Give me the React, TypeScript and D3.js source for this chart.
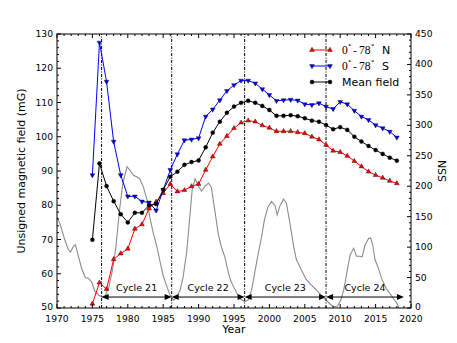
import React from 'react';
import * as d3 from 'd3';

const width = 457;
const height = 343;
const margin = { top: 34, right: 46, bottom: 35, left: 57 };

// field strength per year (mG)
const years = [
  1975, 1976, 1977, 1978, 1979, 1980, 1981, 1982, 1983, 1984, 1985, 1986, 1987, 1988, 1989,
  1990, 1991, 1992, 1993, 1994, 1995, 1996, 1997, 1998, 1999, 2000, 2001, 2002, 2003, 2004,
  2005, 2006, 2007, 2008, 2009, 2010, 2011, 2012, 2013, 2014, 2015, 2016, 2017, 2018,
];
const fieldNorth = [
  51.2, 57.4, 55.5, 64.2, 65.9, 67.3, 73.1, 74.4, 79.0, 81.0, 83.5, 86.2, 84.0, 84.4, 85.5,
  86.2, 90.3, 94.2, 97.9, 100.2, 102.5, 104.1, 104.7, 104.4, 103.3, 102.6, 101.6, 101.6, 101.6, 101.3,
  101.0, 100.0, 99.2, 97.6, 95.9, 95.5, 94.4, 92.9, 91.3, 89.8, 88.8, 88.0, 87.1, 86.4,
];
const fieldSouth = [
  88.8, 127.5, 116.1, 98.6, 88.8, 82.6, 82.6, 81.1, 80.8, 78.5, 84.5, 90.3, 94.9, 99.0, 99.2,
  99.6, 105.9, 108.0, 110.7, 113.4, 115.1, 116.4, 116.4, 115.6, 113.9, 112.2, 110.5, 110.7, 110.8, 110.6,
  109.5, 109.3, 109.8, 108.8, 108.1, 110.2, 109.5, 107.6, 105.9, 104.9, 103.4, 102.5, 101.5, 99.8,
];
const fieldMean = [
  69.9, 92.2, 85.6, 81.2, 77.4, 75.0, 77.8, 77.8, 80.0, 80.4, 84.5, 88.3, 89.8, 91.8, 92.6,
  93.1, 96.9, 101.2, 104.4, 107.0, 108.8, 109.9, 110.5, 109.9, 109.0, 107.8, 106.1, 106.1, 106.3, 106.0,
  105.4, 104.7, 104.4, 103.4, 102.2, 102.8, 102.0, 100.0, 98.6, 97.3, 96.1, 95.0, 93.9, 93.0,
];

// smoothed sunspot number (right axis)
const ssnYears = [
  1970.0, 1970.4, 1970.7, 1971.1, 1971.6, 1971.9, 1972.3, 1972.6, 1973.0, 1973.5, 1974.0, 1974.4,
  1974.9, 1975.3, 1975.9, 1976.4, 1976.8, 1977.3, 1977.8, 1978.3, 1978.8, 1979.3, 1979.9, 1980.3,
  1980.8, 1981.3, 1981.7, 1982.2, 1982.7, 1983.1, 1983.6, 1984.1, 1984.5, 1985.0, 1985.5, 1986.0,
  1986.5, 1986.9, 1987.4, 1987.8, 1988.3, 1988.8, 1989.1, 1989.5, 1990.0, 1990.4, 1990.9, 1991.4,
  1991.8, 1992.3, 1992.8, 1993.2, 1993.7, 1994.2, 1994.6, 1995.1, 1995.6, 1996.0, 1996.5, 1997.0,
  1997.5, 1997.9, 1998.4, 1998.9, 1999.3, 1999.8, 2000.3, 2000.8, 2001.1, 2001.5, 2002.0, 2002.4,
  2002.9, 2003.4, 2003.8, 2004.5, 2005.2, 2005.9, 2006.6, 2007.3, 2008.0, 2008.7, 2009.1, 2009.6,
  2010.1, 2010.5, 2011.0, 2011.4, 2011.9, 2012.3, 2012.8, 2013.1, 2013.5, 2014.0, 2014.3, 2014.6,
  2014.9, 2015.4, 2015.9, 2016.5, 2017.2, 2017.6, 2018.0, 2018.3,
];
const ssnValues = [
  149, 139, 128, 112, 96, 92, 101, 104, 86, 64, 50, 49,
  43, 28, 21, 18, 20, 33, 60, 98, 158, 205, 232, 226,
  218, 215, 212, 199, 178, 150, 123, 101, 79, 53, 36, 20,
  13, 18, 30, 50, 90, 155, 195, 212, 200, 192, 200, 205,
  198, 160, 120, 101, 84, 58, 43, 31, 20, 14, 11, 13,
  30, 56, 88, 117, 145, 166, 175, 168, 153, 168, 179, 172,
  139, 103, 80, 63, 47, 38, 30, 21, 13, 5, 2, 3,
  13, 30, 62, 87, 98, 85, 85, 84, 103, 114, 115, 103,
  80, 65, 47, 32, 21, 14, 8, 0,
];

const cycleStarts = [1976.3, 1986.2, 1996.5, 2008.0];
const cycleEnds = [1986.2, 1996.5, 2008.0, 2019.0];
const cycleNames = ['Cycle 21', 'Cycle 22', 'Cycle 23', 'Cycle 24'];
const arrowLevel = 53.2;

const xTicks = [1970, 1975, 1980, 1985, 1990, 1995, 2000, 2005, 2010, 2015, 2020];
const leftTicks = [50, 60, 70, 80, 90, 100, 110, 120, 130];
const rightTicks = [0, 50, 100, 150, 200, 250, 300, 350, 400, 450];

const font = 'DejaVu Sans, sans-serif';

export default function App() {
  const x = d3.scaleLinear([1970, 2020], [margin.left, width - margin.right]);
  const yL = d3.scaleLinear([50, 130], [height - margin.bottom, margin.top]);
  const yR = d3.scaleLinear([0, 450], [height - margin.bottom, margin.top]);
  const x0 = margin.left, x1 = width - margin.right;
  const y0 = height - margin.bottom, y1 = margin.top;

  const fieldLine = d3.line<number>().x((d, i) => x(years[i])).y(d => yL(d));
  const ssnLine = d3.line<number>().x((d, i) => x(ssnYears[i])).y(d => yR(d));
  const tri = d3.symbol(d3.symbolTriangle, 10)()!;

  const xMinor = d3.range(1970, 2021, 1).filter(v => v % 5 !== 0);
  const lMinor = d3.range(50, 131, 2).filter(v => v % 10 !== 0);
  const rMinor = d3.range(0, 451, 10).filter(v => v % 50 !== 0);

  const series = [
    { data: fieldNorth, color: '#ff0000', marker: 'up' },
    { data: fieldSouth, color: '#0000ff', marker: 'down' },
    { data: fieldMean, color: '#000000', marker: 'circle' },
  ];

  const drawMarker = (kind: string, cx: number, cy: number, color: string, key: any) => {
    if (kind === 'circle') return <circle key={key} cx={cx} cy={cy} r={2} fill={color} stroke="#000" strokeWidth={0.4} />;
    const rot = kind === 'down' ? 180 : 0;
    return <path key={key} d={tri} transform={`translate(${cx},${cy}) rotate(${rot})`} fill={color} stroke="#000" strokeWidth={0.4} />;
  };

  const arrowHead = (tipX: number, dir: number, y: number, key: any) => {
    const len = 7, hw = 3;
    return <path key={key} d={`M${tipX},${y}L${tipX - dir * len},${y - hw}L${tipX - dir * len},${y + hw}Z`} fill="#000" />;
  };

  const legendItems = [
    { color: '#ff0000', marker: 'up', label: 'N' },
    { color: '#0000ff', marker: 'down', label: 'S' },
    { color: '#000000', marker: 'circle', label: 'Mean field' },
  ];

  return (
    <svg width={width} height={height} style={{ position: 'absolute', left: 0, top: 0, background: '#fff' }} fontFamily={font}>
      <defs>
        <clipPath id="plot-clip">
          <rect x={x0} y={y1} width={x1 - x0} height={y0 - y1} />
        </clipPath>
      </defs>

      <path d={ssnLine(ssnValues)!} fill="none" stroke="#8c8c8c" strokeWidth={1.1} clipPath="url(#plot-clip)" />

      {cycleStarts.map((c, i) => (
        <line key={'v' + i} x1={x(c)} x2={x(c)} y1={y0} y2={y1} stroke="#000" strokeWidth={1} strokeDasharray="3,1.5,1,1.5" />
      ))}

      {cycleStarts.map((c, i) => {
        const ya = yL(arrowLevel);
        const a = x(c), b = x(cycleEnds[i]);
        return (
          <g key={'a' + i}>
            <line x1={a + 5} x2={b - 5} y1={ya} y2={ya} stroke="#000" strokeWidth={1} />
            {arrowHead(a, -1, ya, 'l')}
            {arrowHead(b, 1, ya, 'r')}
            <text x={(a + b) / 2} y={ya - 6.5} fontSize={9.5} textAnchor="middle">{cycleNames[i]}</text>
          </g>
        );
      })}

      {series.map((s, si) => (
        <g key={'s' + si} clipPath="url(#plot-clip)">
          <path d={fieldLine(s.data)!} fill="none" stroke={s.color} strokeWidth={1} />
          {s.data.map((v, i) => drawMarker(s.marker, x(years[i]), yL(v), s.color, i))}
        </g>
      ))}

      <rect x={x0} y={y1} width={x1 - x0} height={y0 - y1} fill="none" stroke="#000" strokeWidth={1} />

      {xTicks.map(t => (
        <g key={'xt' + t}>
          <line x1={x(t)} x2={x(t)} y1={y0} y2={y0 - 4} stroke="#000" />
          <line x1={x(t)} x2={x(t)} y1={y1} y2={y1 + 4} stroke="#000" />
          <text x={x(t)} y={y0 + 13.5} fontSize={9.2} textAnchor="middle">{t}</text>
        </g>
      ))}
      {xMinor.map(t => (
        <g key={'xm' + t}>
          <line x1={x(t)} x2={x(t)} y1={y0} y2={y0 - 2} stroke="#000" />
          <line x1={x(t)} x2={x(t)} y1={y1} y2={y1 + 2} stroke="#000" />
        </g>
      ))}
      {leftTicks.map(t => (
        <g key={'lt' + t}>
          <line x1={x0} x2={x0 + 4} y1={yL(t)} y2={yL(t)} stroke="#000" />
          <text x={x0 - 4} y={yL(t) + (t === 50 ? 2.3 : 3)} fontSize={9.2} textAnchor="end">{t}</text>
        </g>
      ))}
      {lMinor.map(t => (
        <line key={'lm' + t} x1={x0} x2={x0 + 2} y1={yL(t)} y2={yL(t)} stroke="#000" />
      ))}
      {rightTicks.map(t => (
        <g key={'rt' + t}>
          <line x1={x1} x2={x1 - 4} y1={yR(t)} y2={yR(t)} stroke="#000" />
          <text x={x1 + 4} y={yR(t) + (t === 0 ? 2.3 : 3)} fontSize={9.2} textAnchor="start">{t}</text>
        </g>
      ))}
      {rMinor.map(t => (
        <line key={'rm' + t} x1={x1} x2={x1 - 2} y1={yR(t)} y2={yR(t)} stroke="#000" />
      ))}

      <text x={(x0 + x1) / 2} y={333} fontSize={11} textAnchor="middle">Year</text>
      <text transform={`translate(25,${(y0 + y1) / 2}) rotate(-90)`} fontSize={11} textAnchor="middle">Unsigned magnetic field (mG)</text>
      <text transform={`translate(446,${(y0 + y1) / 2}) rotate(-90)`} fontSize={11} textAnchor="middle">SSN</text>

      {legendItems.map((it, i) => {
        const ly = 50 + i * 16;
        return (
          <g key={'lg' + i}>
            <line x1={312} x2={330} y1={ly} y2={ly} stroke={it.color} strokeWidth={1} />
            {drawMarker(it.marker, 312, ly, it.color, 'a')}
            {drawMarker(it.marker, 330, ly, it.color, 'b')}
            {i < 2 ? (
              <text y={ly + 4} fontSize={11}>
                <tspan x={342} fontFamily="Liberation Serif, serif" fontSize={11.5}>0</tspan>
                <tspan x={348} dy={-5} fontSize={7}>°</tspan>
                <tspan x={353} dy={5}>-</tspan>
                <tspan x={359} fontFamily="Liberation Serif, serif" fontSize={11.5}>78</tspan>
                <tspan x={371} dy={-5} fontSize={7}>°</tspan>
                <tspan x={382} dy={5}>{it.label}</tspan>
              </text>
            ) : (
              <text x={342} y={ly + 4} fontSize={11}>{it.label}</text>
            )}
          </g>
        );
      })}
    </svg>
  );
}
